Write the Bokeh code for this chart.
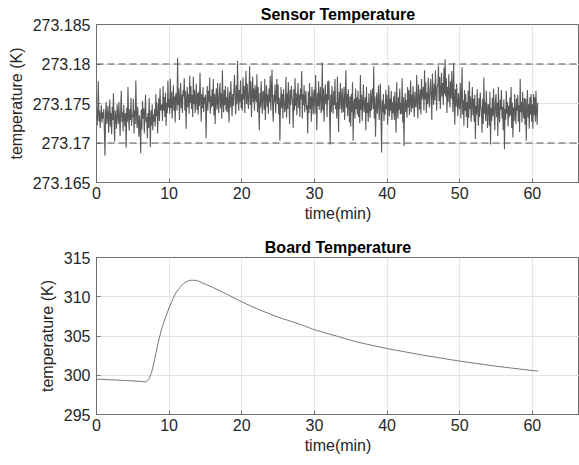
from bokeh.plotting import figure
from bokeh.models import Range1d, FixedTicker, Span
from bokeh.layouts import column
from bokeh.embed import file_html
from bokeh.resources import INLINE

# ---------------- data ----------------
sensor_temp = [
    273.1745, 273.1722, 273.1737, 273.1778, 273.1728, 273.1741, 273.1719, 273.1735, 273.1748, 273.1726, 273.1739, 273.1731,
    273.1743, 273.1716, 273.1684, 273.1738, 273.1752, 273.1724, 273.1736, 273.1747, 273.1713, 273.1733, 273.1755, 273.1721,
    273.1738, 273.1711, 273.1746, 273.1729, 273.1763, 273.1725, 273.1702, 273.1741, 273.1732, 273.1718, 273.1749, 273.1736,
    273.1724, 273.1752, 273.1731, 273.1709, 273.1744, 273.1766, 273.1727, 273.1739, 273.1715, 273.1748, 273.1733, 273.1721,
    273.1738, 273.1694, 273.1745, 273.1727, 273.1771, 273.1732, 273.1716, 273.1743, 273.1729, 273.1757, 273.1722, 273.1736,
    273.1733, 273.1756, 273.1712, 273.1741, 273.1724, 273.1779, 273.1738, 273.1719, 273.1746, 273.1727, 273.1708, 273.1735,
    273.1724, 273.1687, 273.1742, 273.1717, 273.1753, 273.1731, 273.1744, 273.1712, 273.1739, 273.1761, 273.1726, 273.1733,
    273.1706, 273.1738, 273.1719, 273.1757, 273.1728, 273.1695, 273.1741, 273.1722, 273.1749, 273.1716, 273.1736, 273.1727,
    273.1743, 273.1721, 273.1762, 273.1734, 273.1751, 273.1712, 273.1739, 273.1757, 273.1728, 273.1769, 273.1741, 273.1746,
    273.1749, 273.1728, 273.1772, 273.1741, 273.1758, 273.1733, 273.1764, 273.1722, 273.1751, 273.1738, 273.1779, 273.1745,
    273.1756, 273.1737, 273.1781, 273.1744, 273.1765, 273.1731, 273.1752, 273.1773, 273.1741, 273.1759, 273.1726, 273.1762,
    273.1763, 273.1741, 273.1808, 273.1748, 273.1769, 273.1729, 273.1755, 273.1776, 273.1744, 273.1761, 273.1738, 273.1767,
    273.1759, 273.1782, 273.1741, 273.1766, 273.1718, 273.1754, 273.1771, 273.1745, 273.1762, 273.1737, 273.1785, 273.1751,
    273.1772, 273.1743, 273.1761, 273.1733, 273.1784, 273.1749, 273.1767, 273.1738, 273.1756, 273.1775, 273.1742, 273.1763,
    273.1736, 273.1765, 273.1747, 273.1789, 273.1756, 273.1727, 273.1762, 273.1744, 273.1771, 273.1739, 273.1758, 273.1749,
    273.1761, 273.1706, 273.1748, 273.1772, 273.1741, 273.1766, 273.1752, 273.1783, 273.1737, 273.1759, 273.1745, 273.1768,
    273.1747, 273.1781, 273.1735, 273.1762, 273.1724, 273.1757, 273.1769, 273.1742, 273.1776, 273.1751, 273.1738, 273.1764,
    273.1776, 273.1744, 273.1763, 273.1731, 273.1792, 273.1752, 273.1739, 273.1767, 273.1748, 273.1772, 273.1741, 273.1758,
    273.1739, 273.1771, 273.1749, 273.1726, 273.1765, 273.1745, 273.1778, 273.1753, 273.1734, 273.1762, 273.1747, 273.1769,
    273.1786, 273.1755, 273.1736, 273.1773, 273.1749, 273.1804, 273.1758, 273.1741, 273.1767, 273.1752, 273.1779, 273.1744,
    273.1762, 273.1741, 273.1783, 273.1755, 273.1772, 273.1738, 273.1766, 273.1791, 273.1749, 273.1775, 273.1757, 273.1743,
    273.1767, 273.1797, 273.1748, 273.1778, 273.1733, 273.1761, 273.1784, 273.1752, 273.1769, 273.1741, 273.1773, 273.1758,
    273.1752, 273.1787, 273.1739, 273.1771, 273.1748, 273.1716, 273.1763, 273.1745, 273.1778, 273.1754, 273.1737, 273.1766,
    273.1764, 273.1742, 273.1781, 273.1729, 273.1758, 273.1773, 273.1746, 273.1761, 273.1737, 273.1769, 273.1752, 273.1785,
    273.1741, 273.1767, 273.1793, 273.1746, 273.1727, 273.1761, 273.1752, 273.1774, 273.1738, 273.1758, 273.1781, 273.1749,
    273.1774, 273.1736, 273.1757, 273.1703, 273.1749, 273.1771, 273.1744, 273.1762, 273.1731, 273.1768, 273.1753, 273.1739,
    273.1745, 273.1784, 273.1732, 273.1763, 273.1743, 273.1777, 273.1756, 273.1724, 273.1767, 273.1748, 273.1772, 273.1759,
    273.1752, 273.1719, 273.1768, 273.1741, 273.1782, 273.1747, 273.1763, 273.1735, 273.1758, 273.1776, 273.1744, 273.1761,
    273.1733, 273.1769, 273.1755, 273.1791, 273.1731, 273.1762, 273.1748, 273.1773, 273.1739, 273.1757, 273.1766, 273.1742,
    273.1748, 273.1712, 273.1765, 273.1738, 273.1776, 273.1743, 273.1759, 273.1727, 273.1771, 273.1752, 273.1736, 273.1764,
    273.1768, 273.1737, 273.1786, 273.1753, 273.1716, 273.1763, 273.1747, 273.1778, 273.1742, 273.1759, 273.1771, 273.1738,
    273.1746, 273.1802, 273.1741, 273.1769, 273.1727, 273.1756, 273.1774, 273.1749, 273.1762, 273.1733, 273.1778, 273.1754,
    273.1779, 273.1745, 273.1698, 273.1761, 273.1739, 273.1772, 273.1752, 273.1737, 273.1766, 273.1748, 273.1781, 273.1743,
    273.1751, 273.1731, 273.1784, 273.1748, 273.1714, 273.1765, 273.1743, 273.1776, 273.1755, 273.1738, 273.1769, 273.1746,
    273.1739, 273.1771, 273.1729, 273.1757, 273.1792, 273.1745, 273.1762, 273.1734, 273.1768, 273.1751, 273.1726, 273.1759,
    273.1721, 273.1762, 273.1739, 273.1777, 273.1703, 273.1748, 273.1756, 273.1731, 273.1769, 273.1743, 273.1758, 273.1736,
    273.1766, 273.1733, 273.1755, 273.1725, 273.1786, 273.1742, 273.1761, 273.1728, 273.1752, 273.1774, 273.1739, 273.1748,
    273.1758, 273.1716, 273.1771, 273.1738, 273.1751, 273.1727, 273.1763, 273.1744, 273.1732, 273.1767, 273.1741, 273.1756,
    273.1769, 273.1743, 273.1797, 273.1731, 273.1759, 273.1708, 273.1746, 273.1764, 273.1737, 273.1752, 273.1773, 273.1729,
    273.1747, 273.1775, 273.1735, 273.1688, 273.1754, 273.1739, 273.1762, 273.1728, 273.1749, 273.1736, 273.1767, 273.1743,
    273.1761, 273.1723, 273.1748, 273.1773, 273.1734, 273.1756, 273.1741, 273.1766, 273.1729, 273.1752, 273.1738, 273.1759,
    273.1729, 273.1765, 273.1741, 273.1713, 273.1777, 273.1745, 273.1731, 273.1758, 273.1742, 273.1769, 273.1736, 273.1751,
    273.1737, 273.1782, 273.1726, 273.1758, 273.1696, 273.1748, 273.1763, 273.1739, 273.1754, 273.1732, 273.1771, 273.1745,
    273.1767, 273.1735, 273.1756, 273.1779, 273.1739, 273.1761, 273.1744, 273.1772, 273.1751, 273.1733, 273.1765, 273.1748,
    273.1745, 273.1786, 273.1752, 273.1731, 273.1774, 273.1757, 273.1742, 273.1768, 273.1736, 273.1781, 273.1755, 273.1763,
    273.1771, 273.1741, 273.1792, 273.1755, 273.1777, 273.1738, 273.1764, 273.1749, 273.1783, 273.1758, 273.1745, 273.1769,
    273.1781, 273.1758, 273.1729, 273.1788, 273.1763, 273.1748, 273.1775, 273.1754, 273.1792, 273.1766, 273.1741, 273.1772,
    273.1773, 273.1798, 273.1753, 273.1784, 273.1743, 273.1767, 273.1789, 273.1759, 273.1776, 273.1748, 273.1795, 273.1762,
    273.1806, 273.1759, 273.1782, 273.1738, 273.1771, 273.1752, 273.1787, 273.1763, 273.1745, 273.1778, 273.1756, 273.1791,
    273.1764, 273.1739, 273.1801, 273.1757, 273.1723, 273.1768, 273.1746, 273.1775, 273.1752, 273.1734, 273.1763, 273.1748,
    273.1743, 273.1776, 273.1731, 273.1758, 273.1796, 273.1736, 273.1754, 273.1722, 273.1767, 273.1741, 273.1762, 273.1733,
    273.1752, 273.1719, 273.1766, 273.1732, 273.1778, 273.1743, 273.1759, 273.1727, 273.1748, 273.1771, 273.1735, 273.1756,
    273.1727, 273.1761, 273.1705, 273.1747, 273.1736, 273.1768, 273.1741, 273.1722, 273.1757, 273.1733, 273.1764, 273.1745,
    273.1741, 273.1713, 273.1756, 273.1724, 273.1783, 273.1737, 273.1752, 273.1728, 273.1766, 273.1742, 273.1719, 273.1749,
    273.1748, 273.1722, 273.1765, 273.1698, 273.1744, 273.1728, 273.1757, 273.1734, 273.1769, 273.1739, 273.1716, 273.1753,
    273.1762, 273.1733, 273.1751, 273.1709, 273.1771, 273.1738, 273.1726, 273.1755, 273.1742, 273.1767, 273.1731, 273.1746,
    273.1716, 273.1755, 273.1692, 273.1743, 273.1729, 273.1766, 273.1737, 273.1752, 273.1721, 273.1747, 273.1733, 273.1758,
    273.1735, 273.1771, 273.1719, 273.1751, 273.1707, 273.1745, 273.1728, 273.1762, 273.1739, 273.1724, 273.1756, 273.1741,
    273.1761, 273.1727, 273.1748, 273.1714, 273.1781, 273.1739, 273.1752, 273.1726, 273.1765, 273.1743, 273.1731, 273.1757,
    273.1723, 273.1756, 273.1703, 273.1741, 273.1767, 273.1732, 273.1749, 273.1718, 273.1758, 273.1736, 273.1762, 273.1727,
    273.1749, 273.1718, 273.1762, 273.1735, 273.1758, 273.1727, 273.1766, 273.1741, 273.1723, 273.1751,
]
sample_step_min = 1.0 / 12.0
sensor_time = [i * sample_step_min for i in range(len(sensor_temp))]

board_time = [0, 2, 4, 6, 6.8, 7.2, 7.6, 8.0, 8.5, 9.0, 9.5, 10.0, 10.5, 11.0,
              11.5, 12.0, 12.5, 13.0, 13.5, 14.0, 15.0, 16.0, 18.0, 20.0, 22.0,
              25.0, 28.0, 30.0, 33.0, 36.0, 40.0, 45.0, 50.0, 55.0, 60.0, 60.8]
board_temp = [299.5, 299.42, 299.33, 299.22, 299.15, 299.5, 300.4, 302.0, 304.2,
              306.0, 307.4, 308.6, 309.7, 310.6, 311.2, 311.7, 312.0, 312.1, 312.1,
              312.0, 311.6, 311.2, 310.3, 309.35, 308.5, 307.4, 306.5, 305.8, 305.0,
              304.2, 303.4, 302.55, 301.8, 301.15, 300.6, 300.55]

limit_levels = [273.17, 273.18]
x_ticks = [0, 10, 20, 30, 40, 50, 60]
x_tick_labels = ["0", "10", "20", "30", "40", "50", "60"]
sensor_y_ticks = [273.165, 273.17, 273.175, 273.18, 273.185]
sensor_y_labels = ["273.165", "273.17", "273.175", "273.18", "273.185"]
board_y_ticks = [295, 300, 305, 310, 315]
board_y_labels = ["295", "300", "305", "310", "315"]

# ---------------- style ----------------
FONT = "Liberation Sans"
TXT = "#262626"
AX = "#6e6e6e"
GRID = "#e4e4e4"
FS = "16px"


def make_fig(title, height, top_border, bottom_border, y_range, yticks, ylabels):
    p = figure(width=579, height=height, output_backend="svg", toolbar_location=None,
               x_range=Range1d(0, 66.5), y_range=y_range,
               min_border_left=96, min_border_right=0,
               min_border_top=top_border, min_border_bottom=bottom_border,
               background_fill_color="white", border_fill_color="white")
    p.title.text = title
    p.title.align = "center"
    p.title.text_font = FONT
    p.title.text_font_size = FS
    p.title.text_font_style = "bold"
    p.title.text_color = "#000000"
    p.title.standoff = 4
    p.title.offset = 0

    p.outline_line_color = AX
    p.outline_line_width = 1

    xax = p.below[0]
    yax = p.left[0]
    for ax in (xax, yax):
        ax.axis_line_color = AX
        ax.major_tick_line_color = AX
        ax.minor_tick_line_color = None
        ax.major_tick_in = 4
        ax.major_tick_out = 0
        ax.major_label_text_font = FONT
        ax.major_label_text_font_size = FS
        ax.major_label_text_color = TXT
        ax.axis_label_text_font = FONT
        ax.axis_label_text_font_size = FS
        ax.axis_label_text_font_style = "normal"
        ax.axis_label_text_color = TXT

    xax.ticker = FixedTicker(ticks=x_ticks)
    xax.major_label_overrides = dict(zip(x_ticks, x_tick_labels))
    xax.axis_label = "time(min)"
    xax.major_label_standoff = 4
    xax.axis_label_standoff = 3

    yax.ticker = FixedTicker(ticks=yticks)
    yax.major_label_overrides = dict(zip(yticks, ylabels))
    yax.axis_label = "temperature (K)"
    yax.major_label_standoff = 6
    yax.axis_label_standoff = 5

    p.xgrid.ticker = FixedTicker(ticks=x_ticks)
    p.ygrid.ticker = FixedTicker(ticks=yticks)
    p.xgrid.grid_line_color = GRID
    p.ygrid.grid_line_color = GRID
    return p


p1 = make_fig("Sensor Temperature", 232, 24, 50,
              Range1d(273.165, 273.185), sensor_y_ticks, sensor_y_labels)
for lvl in limit_levels:
    p1.add_layout(Span(location=lvl, dimension="width", line_color="#555555",
                       line_dash="7 4", line_width=1))
p1.line(sensor_time, sensor_temp, line_color="#5a5a5a", line_width=1.1)

p2 = make_fig("Board Temperature", 233, 25, 51,
              Range1d(295, 315), board_y_ticks, board_y_labels)
p2.line(board_time, board_temp, line_color="#7a7a7a", line_width=1)

layout = column(p1, p2, spacing=0)
open("out.html", "w").write(file_html(layout, INLINE))
